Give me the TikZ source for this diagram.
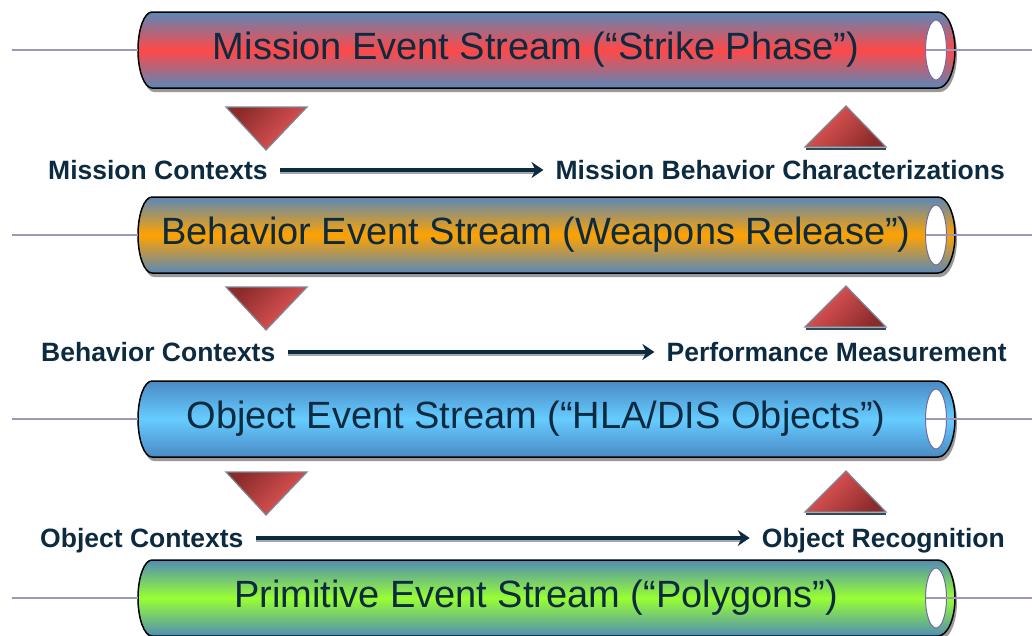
\documentclass[tikz,border=0pt]{standalone}
\usepackage{fontspec}
\setmainfont{Liberation Sans}
\usetikzlibrary{arrows.meta}
\definecolor{ink}{HTML}{0C2A40}
\definecolor{wire}{HTML}{9B99BB}
\definecolor{rim}{HTML}{6E6CA0}
\definecolor{pipeedge}{HTML}{5A88B8}
\definecolor{strike}{HTML}{FF4848}
\definecolor{release}{HTML}{FFA200}
\definecolor{objedge}{HTML}{4A8AC4}
\definecolor{objects}{HTML}{66CCFF}
\definecolor{polyedge}{HTML}{4F8DB5}
\definecolor{polygons}{HTML}{99FF33}
\definecolor{darkred}{HTML}{8B2B2B}
\definecolor{lightred}{HTML}{EC5A5A}
\definecolor{triedge}{HTML}{7D8896}
\tikzset{
  wireline/.style={draw=wire, line width=2.8pt},
  pipebody/.style={draw=black, line width=1.5pt},
  pipeshadow/.style={fill=black!40},
  opening/.style={fill=white, draw=rim, line width=1pt},
  pipetext/.style={text=ink, font=\fontsize{38}{40}\selectfont, inner sep=0pt},
  ctxlabel/.style={text=ink, font=\fontsize{26.5}{28}\selectfont\bfseries, inner sep=0pt, text height=19pt, text depth=0pt},
  flow/.style={draw=ink, line width=3.5pt, -{Stealth[length=12pt,width=16pt,inset=4pt]}, shorten <=12pt, shorten >=12pt},
  flowshadow/.style={draw=black!35, line width=3.5pt, shorten <=12pt, shorten >=18pt, transform canvas={yshift=-2.5pt}},
  downtri/.style={draw=triedge, line width=1.2pt, top color=darkred, bottom color=lightred, shading angle=45},
  uptri/.style={draw=triedge, line width=1.2pt, top color=lightred, bottom color=darkred, shading angle=45},
}
% #1 centre y, #2 edge colour, #3 core colour, #4 name, #5 text
\newcommand{\eventpipe}[5]{%
  \fill[pipeshadow, shift={(2,-4)}] (152,#1+38) -- (938,#1+38)
    arc[start angle=90, end angle=-90, x radius=17, y radius=38] -- (152,#1-38)
    arc[start angle=270, end angle=90, x radius=14, y radius=38] -- cycle;
  \draw[pipebody, top color=#2, bottom color=#2, middle color=#3] (152,#1+38) -- (938,#1+38)
    arc[start angle=90, end angle=-90, x radius=17, y radius=38] -- (152,#1-38)
    arc[start angle=270, end angle=90, x radius=14, y radius=38] -- cycle;
  \draw[opening] (936,#1) ellipse[x radius=10.5, y radius=30];
  \coordinate (#4-in) at (12,#1);
  \coordinate (#4-left) at (138,#1);
  \coordinate (#4-hole) at (925.5,#1);
  \coordinate (#4-out) at (1032,#1);
  \draw[wireline] (#4-in) -- (#4-left);
  \draw[wireline] (#4-hole) -- (#4-out);
  \node[pipetext] (#4) at (536,#1) {#5};
}

\begin{document}
\begin{tikzpicture}[x=1pt, y=1pt]
  \useasboundingbox (0,0) rectangle (1032,-635);

  % the four event streams
  \eventpipe{-50}{pipeedge}{strike}{mission}{Mission Event Stream (“Strike Phase”)}
  \eventpipe{-235}{pipeedge}{release}{behavior}{Behavior Event Stream (Weapons Release”)}
  \eventpipe{-419}{objedge}{objects}{object}{Object Event Stream (“HLA/DIS Objects”)}
  \eventpipe{-598}{polyedge}{polygons}{primitive}{Primitive Event Stream (“Polygons”)}

  % down and up markers between the streams
  \foreach \t in {107,287,472} {
    \path[downtri] (226,-\t) -- (307,-\t) -- (266,-\t-43) -- cycle;
    \draw[ink!85, line width=2pt] (806,-\t-42) -- (886,-\t-42);
    \path[uptri] (805,-\t-40) -- (886,-\t-40) -- (846,-\t+1) -- cycle;
  }

  \node[ctxlabel, anchor=west] (mctx) at (48,-170) {Mission Contexts};
  \node[ctxlabel, anchor=east] (mbeh) at (1005,-170) {Mission Behavior Characterizations};
  \node[ctxlabel, anchor=west] (bctx) at (41,-352) {Behavior Contexts};
  \node[ctxlabel, anchor=east] (perf) at (1007,-352) {Performance Measurement};
  \node[ctxlabel, anchor=west] (octx) at (40,-538) {Object Contexts};
  \node[ctxlabel, anchor=east] (orec) at (1005,-538) {Object Recognition};

  \draw[flowshadow] (mctx) -- (mbeh);
  \draw[flow] (mctx) -- (mbeh);
  \draw[flowshadow] (bctx) -- (perf);
  \draw[flow] (bctx) -- (perf);
  \draw[flowshadow] (octx) -- (orec);
  \draw[flow] (octx) -- (orec);
\end{tikzpicture}
\end{document}
